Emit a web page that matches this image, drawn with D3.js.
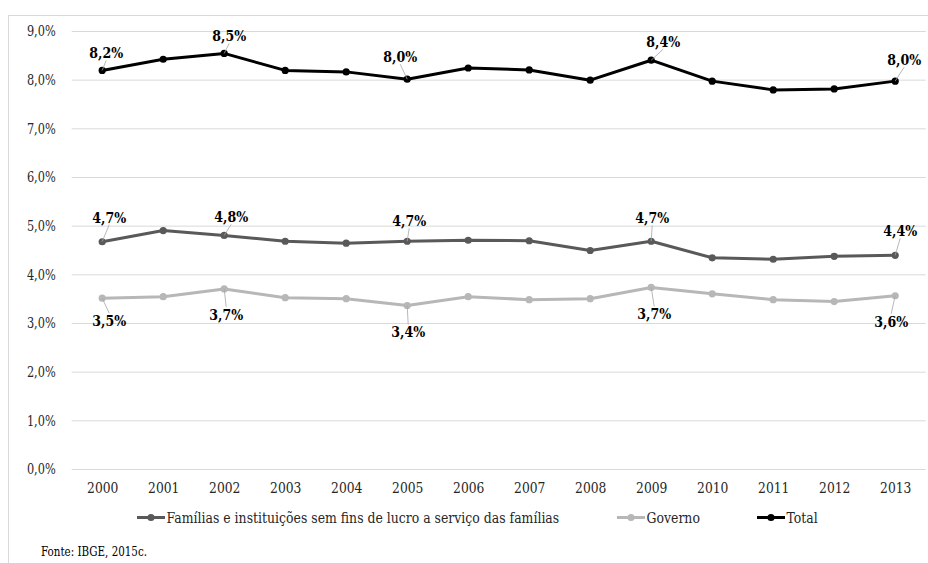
<!DOCTYPE html>
<html>
<head>
<meta charset="utf-8">
<script src="https://cdn.jsdelivr.net/npm/d3@7"></script>
<style>
  body { margin: 0; background: #fff; }
  svg { display: block; }
</style>
</head>
<body>
<svg id="chart" width="928" height="563"></svg>
<script>
// ---- data ----
const years = ["2000","2001","2002","2003","2004","2005","2006","2007","2008","2009","2010","2011","2012","2013"];
const familias = [4.67, 4.90, 4.80, 4.68, 4.64, 4.68, 4.70, 4.69, 4.49, 4.68, 4.34, 4.31, 4.37, 4.39];
const governo  = [3.51, 3.54, 3.70, 3.52, 3.50, 3.36, 3.54, 3.48, 3.50, 3.73, 3.60, 3.48, 3.44, 3.56];
const total    = [8.19, 8.42, 8.54, 8.19, 8.16, 8.01, 8.24, 8.20, 7.99, 8.40, 7.97, 7.79, 7.81, 7.97];
const yTicks = [0, 1, 2, 3, 4, 5, 6, 7, 8, 9];
const labelYears = ["2000", "2002", "2005", "2009", "2013"];
const seriesNames = ["Famílias e instituições sem fins de lucro a serviço das famílias", "Governo", "Total"];
const sourceText = "Fonte: IBGE,  2015c.";

// ---- layout / style ----
const FONT = "'DejaVu Serif', serif";
const series = [
  { name: seriesNames[0], values: familias, color: "#595959",
    offs: [[7,-19],[7,-13],[2,-15],[1,-18],[5,-19]], below: false },
  { name: seriesNames[1], values: governo, color: "#b7b7b7",
    offs: [[7,28],[2,31],[1,32],[3,32],[-4,31]], below: true },
  { name: seriesNames[2], values: total, color: "#000000",
    offs: [[4,-12],[5,-12],[-7,-17],[12,-13],[9,-16]], below: false }
];
const legendX = [137, 617, 757];

// condense a text selection horizontally (Times-like proportions)
function condense(sel, factor) {
  sel.each(function() {
    const w = this.getComputedTextLength();
    d3.select(this).attr("textLength", (w * factor).toFixed(1)).attr("lengthAdjust", "spacingAndGlyphs");
  });
}

const svg = d3.select("#chart");

svg.append("rect").attr("x", 8.5).attr("y", 15.5).attr("width", 940).attr("height", 600)
  .attr("fill", "none").attr("stroke", "#d9d9d9").attr("stroke-width", 1);

const x = d3.scalePoint().domain(years).range([71.7, 925.7]).padding(0.5);
const y = d3.scaleLinear().domain([0, 9]).range([469, 31]);

const fmt = v => d3.format(".1f")(v).replace(".", ",") + "%";

const yAxis = d3.axisLeft(y).tickValues(yTicks).tickSize(-(925.7 - 71.7)).tickFormat(fmt).tickPadding(16);
const gy = svg.append("g").attr("transform", "translate(71.7,0)").call(yAxis);
gy.attr("font-family", FONT).attr("font-size", null);
gy.select(".domain").remove();
gy.selectAll(".tick line").attr("stroke", "#d9d9d9").attr("stroke-width", 1);
gy.selectAll(".tick text").style("font-family", FONT).attr("font-size", "14px").attr("fill", "#262626").attr("dy", "0.35em")
  .call(condense, 0.81);

const xAxis = d3.axisBottom(x).tickSize(0).tickPadding(0);
const gx = svg.append("g").attr("transform", "translate(0,469)").call(xAxis);
gx.attr("font-family", FONT).attr("font-size", null);
gx.select(".domain").remove();
gx.selectAll(".tick text").style("font-family", FONT).attr("font-size", "15px").attr("fill", "#262626")
  .attr("dy", null).attr("y", 24).call(condense, 0.82);

const line = d3.line().x((d, i) => x(years[i])).y(d => y(d));

series.forEach(s => {
  const g = svg.append("g");
  g.append("path").datum(s.values).attr("d", line)
    .attr("fill", "none").attr("stroke", s.color).attr("stroke-width", 3).attr("stroke-linejoin", "round");
  g.selectAll("circle").data(s.values).join("circle")
    .attr("cx", (d, i) => x(years[i])).attr("cy", d => y(d)).attr("r", 3.6).attr("fill", s.color);
  labelYears.forEach((yr, k) => {
    const i = years.indexOf(yr);
    const px = x(yr), py = y(s.values[i]);
    const [dx, dy] = s.offs[k];
    const lx = px + dx, ly = py + dy;
    const ey = s.below ? ly - 13 : ly + 2;
    const dist = Math.hypot(lx - px, ey - py);
    if (dist > 6) {
      g.append("line").attr("x1", px).attr("y1", py).attr("x2", lx).attr("y2", ey)
        .attr("stroke", "#a6a6a6").attr("stroke-width", 0.8);
    }
    g.append("text").attr("x", lx).attr("y", ly).attr("text-anchor", "middle")
      .style("font-family", FONT)
      .attr("font-size", "15px").attr("font-weight", "bold").attr("fill", "#000")
      .text(fmt(s.values[i]))
      .call(condense, 0.84);
  });
});

const lg = svg.append("g");
series.forEach((s, i) => {
  const gx0 = legendX[i];
  lg.append("line").attr("x1", gx0).attr("x2", gx0 + 28).attr("y1", 517.5).attr("y2", 517.5)
    .attr("stroke", s.color).attr("stroke-width", 3);
  lg.append("circle").attr("cx", gx0 + 14).attr("cy", 517.5).attr("r", 3.6).attr("fill", s.color);
  lg.append("text").attr("x", gx0 + 29.5).attr("y", 523).style("font-family", FONT).attr("font-size", "14px")
    .attr("fill", "#262626").text(s.name).call(condense, 0.89);
});

svg.append("text").attr("x", 41).attr("y", 556).style("font-family", FONT).attr("font-size", "13px")
  .attr("fill", "#000").attr("textLength", 106).attr("lengthAdjust", "spacingAndGlyphs")
  .text(sourceText);
</script>
</body>
</html>
